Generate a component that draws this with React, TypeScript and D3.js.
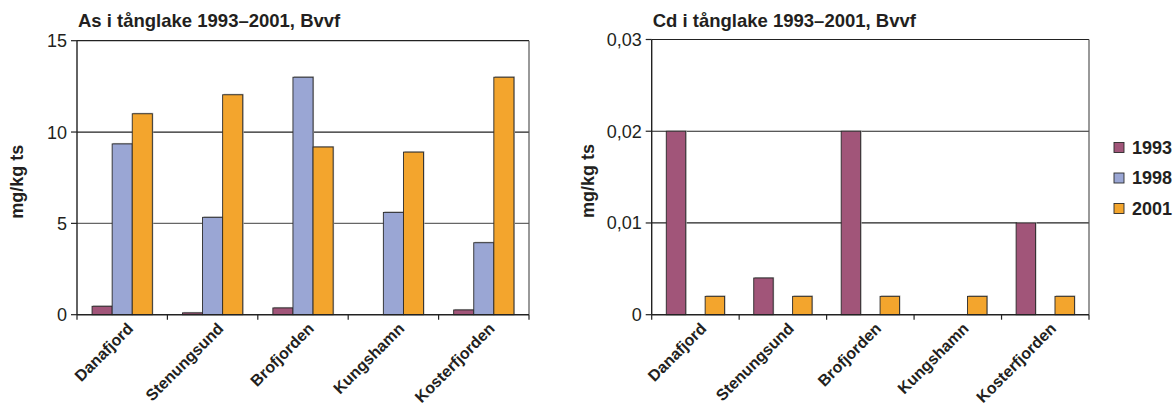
import React from 'react';
import * as d3 from 'd3';

const categories = ['Danafjord', 'Stenungsund', 'Brofjorden', 'Kungshamn', 'Kosterfjorden'];
const years = ['1993', '1998', '2001'];
const yearColors = ['#A15579', '#9AA6D4', '#F3A52D'];

// As, mg/kg ts
const as1993 = [0.46, 0.1, 0.37, null, 0.26];
const as1998 = [9.35, 5.33, 13.0, 5.6, 3.94];
const as2001 = [11.0, 12.04, 9.18, 8.9, 13.0];
const asTicks = [0, 5, 10, 15];

// Cd, mg/kg ts (no 1998 values)
const cd1993 = [0.02, 0.004, 0.02, null, 0.01];
const cd1998 = [null, null, null, null, null];
const cd2001 = [0.002, 0.002, 0.002, 0.002, 0.002];
const cdTicks = [0, 0.01, 0.02, 0.03];

const FONT = "'Liberation Sans', Arial, Helvetica, sans-serif";

type Val = number | null;

interface PanelProps {
  title: string;
  series: Val[][];
  ticks: number[];
  fmt: (v: number) => string;
  left: number;
  right: number;
  top: number;
  bottom: number;
  yTitleX: number;
  lightTicks?: number[];
}

const Panel: React.FC<PanelProps> = ({ title, series, ticks, fmt, left, right, top, bottom, yTitleX, lightTicks = [] }) => {
  const x = d3.scaleBand<string>().domain(categories).range([left, right]).padding(0);
  // Excel-like gap width 150%: outer padding of 0.75 step on each side
  const xi = d3.scaleBand<string>().domain(years).range([0, x.bandwidth()]).paddingInner(0).paddingOuter(0.75);
  const y = d3.scaleLinear().domain([ticks[0], ticks[ticks.length - 1]]).range([bottom, top]);

  const bars: { cat: string; yr: number; v: number }[] = [];
  series.forEach((vals, s) => {
    vals.forEach((v, i) => {
      if (v !== null) bars.push({ cat: categories[i], yr: s, v });
    });
  });

  const boundaries = categories.map(c => x(c) as number).concat([right]);

  return (
    <g>
      <text x={left + 1} y={27} fontFamily={FONT} fontWeight="bold" fontSize={18.5} fill="#231f20">
        {title}
      </text>

      {/* gridlines */}
      {ticks.slice(1).map(t => (
        <line key={t} x1={left} x2={right} y1={y(t)} y2={y(t)}
          stroke={lightTicks.includes(t) ? '#666' : '#222'} strokeWidth={1.2} />
      ))}
      <line x1={right} x2={right} y1={top} y2={bottom} stroke="#555" strokeWidth={1.2} />

      {/* bars */}
      {bars.map((b, k) => {
        const bx = (x(b.cat) as number) + (xi(years[b.yr]) as number);
        const by = y(b.v);
        return (
          <g key={k}>
            <rect x={bx + 1} y={by - 1} width={xi.bandwidth()} height={bottom - by + 1} fill="#bbb" />
            <rect x={bx} y={by} width={xi.bandwidth()} height={bottom - by}
              fill={yearColors[b.yr]} stroke="#2a2a2a" strokeWidth={0.9} />
          </g>
        );
      })}

      {/* y axis */}
      <line x1={left} x2={left} y1={top} y2={bottom} stroke="#222" strokeWidth={1.4} />
      {ticks.map(t => (
        <g key={t}>
          <line x1={left - 6} x2={left} y1={y(t)} y2={y(t)} stroke="#222" strokeWidth={1.2} />
          <text x={left - 10} y={y(t)} dy="0.36em" textAnchor="end" fontFamily={FONT} fontSize={18} fill="#231f20">
            {fmt(t)}
          </text>
        </g>
      ))}

      {/* x axis */}
      <line x1={left} x2={right} y1={bottom} y2={bottom} stroke="#222" strokeWidth={1.4} />
      {boundaries.map((bx, i) => (
        <line key={i} x1={bx} x2={bx} y1={bottom} y2={bottom + 5} stroke="#222" strokeWidth={1.2} />
      ))}
      {categories.map(c => {
        const cx = (x(c) as number) + x.bandwidth() / 2 + 4;
        const cy = bottom + 7;
        return (
          <text key={c} x={cx} y={cy} transform={`rotate(-45, ${cx}, ${cy})`} textAnchor="end"
            dy="0.7em" fontFamily={FONT} fontWeight="bold" fontSize={16} fill="#231f20">
            {c}
          </text>
        );
      })}

      <text transform={`translate(${yTitleX}, ${(top + bottom) / 2 + 4}) rotate(-90)`} textAnchor="middle"
        fontFamily={FONT} fontWeight="bold" fontSize={18} fill="#231f20">
        mg/kg ts
      </text>
    </g>
  );
};

const App: React.FC = () => {
  const fmtComma = (v: number) => (v === 0 ? '0' : d3.format('.2f')(v).replace('.', ','));
  return (
    <div style={{ position: 'absolute', left: 0, top: 0 }}>
      <svg width={1173} height={405} style={{ display: 'block', background: '#fff' }}>
        <Panel title="As i tånglake 1993–2001, Bvvf" series={[as1993, as1998, as2001]} ticks={asTicks}
          fmt={v => String(v)} left={77} right={529} top={40.7} bottom={314.7} yTitleX={23} lightTicks={[5]} />
        <Panel title="Cd i tånglake 1993–2001, Bvvf" series={[cd1993, cd1998, cd2001]} ticks={cdTicks}
          fmt={fmtComma} left={651.7} right={1089} top={39.5} bottom={314.7} yTitleX={594} />
        <g>
          {years.map((yr, i) => (
            <g key={yr} transform={`translate(1114, ${142.5 + i * 30.5})`}>
              <rect x={0} y={0} width={10} height={10} fill={yearColors[i]} stroke="#2a2a2a" strokeWidth={0.9} />
              <text x={18} y={5} dy="0.36em" fontFamily={FONT} fontWeight="bold" fontSize={18} fill="#231f20">
                {yr}
              </text>
            </g>
          ))}
        </g>
      </svg>
    </div>
  );
};

export default App;
